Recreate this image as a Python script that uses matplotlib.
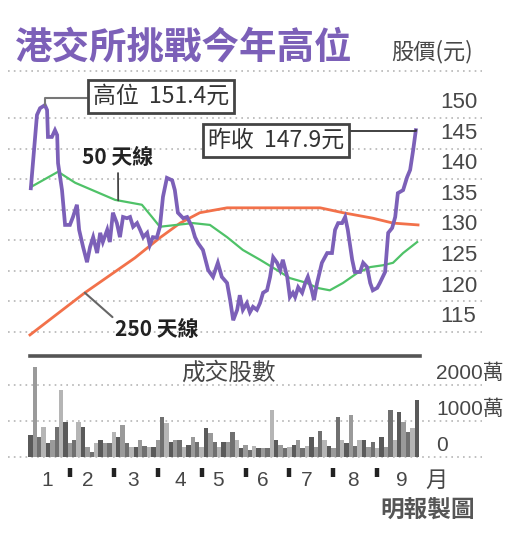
import numpy as np
import matplotlib
matplotlib.use('Agg')
import matplotlib.pyplot as plt
import matplotlib.transforms as mtransforms
from matplotlib.lines import Line2D

# ---- data (x in months from start of Jan) ----
price_x = [0.11, 0.25, 0.32, 0.43, 0.48, 0.50, 0.59, 0.66, 0.71, 0.73, 0.82, 0.89, 1.00,
           1.07, 1.16, 1.21, 1.30, 1.39, 1.46, 1.53, 1.62, 1.69, 1.75, 1.85, 1.91, 1.98,
           2.07, 2.14, 2.21, 2.30, 2.37, 2.44, 2.53, 2.60, 2.67, 2.76, 2.82, 2.89, 2.98,
           3.05, 3.12, 3.21, 3.33, 3.39, 3.46, 3.58, 3.67, 3.78, 3.85, 3.92, 4.03, 4.15,
           4.26, 4.37, 4.46, 4.58, 4.65, 4.72, 4.81, 4.87, 4.94, 5.03, 5.10, 5.17, 5.26,
           5.33, 5.40, 5.49, 5.56, 5.63, 5.72, 5.79, 5.85, 5.95, 6.01, 6.08, 6.13, 6.20,
           6.29, 6.36, 6.42, 6.51, 6.56, 6.63, 6.74, 6.86, 6.97, 7.04, 7.11, 7.20, 7.27,
           7.33, 7.43, 7.49, 7.61, 7.68, 7.77, 7.84, 7.90, 8.00, 8.06, 8.18, 8.25, 8.34,
           8.41, 8.47, 8.59, 8.68, 8.75, 8.82, 8.88]
price_y = [136.0, 148.0, 149.1, 149.6, 148.8, 144.4, 144.4, 145.5, 144.7, 140.1, 135.7, 130.0, 130.0,
           131.3, 133.3, 129.2, 126.4, 123.9, 126.4, 128.0, 125.4, 128.7, 127.2, 129.2, 127.2, 132.0,
           130.3, 128.0, 131.3, 131.1, 131.3, 129.7, 130.3, 129.2, 128.0, 128.7, 126.7, 128.0, 127.9,
           129.7, 134.6, 137.7, 137.3, 135.7, 132.0, 131.1, 131.3, 129.7, 128.0, 127.0, 125.9, 122.6,
           121.5, 123.8, 121.5, 120.5, 117.7, 114.4, 116.1, 118.5, 116.1, 117.2, 115.7, 116.6, 116.1,
           117.2, 118.9, 119.3, 121.5, 124.7, 123.8, 122.6, 124.3, 121.5, 118.2, 118.9, 118.2, 119.8,
           118.9, 120.5, 121.5, 119.3, 117.7, 120.5, 123.8, 125.4, 125.4, 129.2, 130.3, 130.3, 131.3,
           129.2, 124.3, 122.3, 122.3, 123.8, 123.1, 120.5, 119.3, 119.7, 120.5, 122.3, 128.7, 129.5,
           131.3, 135.2, 135.7, 137.8, 139.0, 142.3, 145.5]

ma50_x = [0.11, 0.73, 1.12, 2.03, 2.64, 2.87, 3.05, 3.80, 4.19, 4.58, 4.94, 5.33, 5.72,
          6.01, 6.40, 6.63, 6.92, 7.22, 7.54, 7.84, 8.13, 8.36, 8.59, 8.91]
ma50_y = [136.2, 138.7, 136.9, 134.1, 133.3, 131.3, 129.7, 130.3, 130.0, 128.0, 125.9, 124.3, 122.6,
          121.3, 120.5, 119.7, 119.3, 120.5, 122.1, 123.1, 123.4, 123.8, 125.4, 127.2]

ma250_x = [0.09, 1.34, 2.48, 3.05, 3.51, 3.96, 4.58, 5.33, 6.24, 6.70, 7.22, 7.90, 8.36, 8.93]
ma250_y = [112.0, 118.9, 124.6, 127.9, 130.3, 132.0, 132.8, 132.8, 132.8, 132.8, 132.0, 131.1, 130.3, 130.0]

# volume, one bar per 0.1 month (萬股)
vol_x = np.round(np.arange(1, 90) * 0.1, 1)
vol = [610, 2500, 550, 830, 390, 470, 830, 1860, 970, 390,
       470, 970, 830, 280, 140, 390, 470, 390, 390, 690,
       550, 890, 390, 280, 280, 470, 300, 280, 280, 470,
       1110, 940, 420, 470, 470, 280, 330, 550, 420, 280,
       800, 670, 420, 280, 420, 420, 690, 470, 250, 330,
       190, 300, 250, 250, 250, 1300, 470, 330, 250, 280,
       330, 470, 250, 300, 550, 280, 720, 470, 300, 250,
       1110, 470, 390, 1170, 300, 470, 470, 280, 420, 250,
       550, 280, 1300, 470, 1250, 970, 690, 800, 1580]

price_ticks = [150, 145, 140, 135, 130, 125, 120, 115]
price_grid = [147.5, 142.5, 137.5, 132.5, 127.5, 122.5, 117.5, 112.5]
vol_ticks = [2000, 1000, 0]
vol_tick_labels = ['2000萬', '1000萬', '0']
month_labels = ['1', '2', '3', '4', '5', '6', '7', '8', '9']
month_label_x = [0.48, 1.41, 2.44, 3.51, 4.37, 5.40, 6.40, 7.45, 8.56]
month_edges = [1, 2, 3, 4, 5, 6, 7, 8]

title = '港交所挑戰今年高位'
high_label = '高位  151.4元'
close_label = '昨收  147.9元'

# ---- style ----
CJK = ['Noto Sans CJK TC', 'DejaVu Sans']
NUM = ['Liberation Sans', 'DejaVu Sans']
PURPLE = '#7c60b8'
GREEN = '#4fc268'
ORANGE = '#f2714a'
GRID = '#b5b5b5'
TXT = '#474747'

W, H = 528, 540
fig = plt.figure(figsize=(W / 100, H / 100), dpi=100)
fig.patch.set_facecolor('white')


def px_box(l, t, r, b):
    return [l / W, 1 - b / H, (r - l) / W, (b - t) / H]


def hline_px(x0, x1, y, **kw):
    fig.add_artist(Line2D([x0 / W, x1 / W], [1 - y / H, 1 - y / H], transform=fig.transFigure, **kw))


# header
fig.text(15 / W, 1 - 47 / H, title, family=CJK, fontsize=27, fontweight='bold',
         color=PURPLE, ha='left', va='center')
fig.text(391 / W, 1 - 52 / H, '股價(元)', family=CJK, fontsize=16, color=TXT,
         ha='left', va='center')
hline_px(8, 482, 71, color=GRID, lw=1.2, ls=(0, (1, 2.5)))

# ---- price panel ----
ax = fig.add_axes(px_box(8, 60, 482, 345))
ax.set_xlim(-0.41, 10.387)
ax.set_ylim(110.35, 156.99)
ax.axis('off')

for g in price_grid:
    ax.axhline(g, color=GRID, lw=1.2, ls=(0, (1, 2.5)), zorder=1)
for t in price_ticks:
    ax.text(9.43, t, str(t), family=NUM, fontsize=16, color=TXT, ha='left', va='center')

ax.plot(ma250_x, ma250_y, color=ORANGE, lw=2.0, zorder=2)
ax.plot(ma50_x, ma50_y, color=GREEN, lw=1.6, zorder=3)
ax.plot(price_x, price_y, color=PURPLE, lw=2.7, zorder=4, solid_joinstyle='miter')

box = dict(boxstyle='square,pad=0.22', fc='white', ec='#444444', lw=2.0)
i_hi = int(np.argmax(price_y))
ax.annotate(high_label, xy=(price_x[i_hi], price_y[i_hi]), xytext=(161, 443.5),
            textcoords='figure pixels', family=CJK, fontsize=16.5, color='#333333',
            ha='center', va='center', bbox=box, zorder=6,
            arrowprops=dict(arrowstyle='-', color='#777777', lw=1.5, shrinkA=0, shrinkB=0,
                            relpos=(0, 0.45),
                            connectionstyle='angle,angleA=0,angleB=90,rad=0'))
ax.annotate(close_label, xy=(price_x[-1], price_y[-1]), xytext=(276, 399.5),
            textcoords='figure pixels', family=CJK, fontsize=16.5, color='#333333',
            ha='center', va='center', bbox=box, zorder=6,
            arrowprops=dict(arrowstyle='-', color='#333333', lw=1.3, shrinkA=0, shrinkB=0,
                            relpos=(1, 0.9),
                            connectionstyle='angle,angleA=0,angleB=90,rad=0'))

ax.annotate('50 天線', xy=(2.10, np.interp(2.10, ma50_x, ma50_y)), xytext=(118, 383),
            textcoords='figure pixels', family=CJK, fontsize=15, fontweight='bold',
            color='#222222', ha='center', va='center', zorder=6,
            arrowprops=dict(arrowstyle='-', color='#444444', lw=1.3, shrinkA=2, shrinkB=0,
                            relpos=(0.5, 0)))
ax.annotate('250 天線', xy=(1.34, np.interp(1.34, ma250_x, ma250_y)), xytext=(157, 211),
            textcoords='figure pixels', family=CJK, fontsize=15, fontweight='bold',
            color='#222222', ha='center', va='center', zorder=6,
            arrowprops=dict(arrowstyle='-', color='#666666', lw=1.5, shrinkA=0, shrinkB=0,
                            relpos=(0, 0.95)))

# separator
hline_px(30, 420, 356, color='#555555', lw=2.6)

# ---- volume panel ----
axv = fig.add_axes(px_box(8, 360, 482, 462))
axv.set_xlim(-0.41, 10.387)
axv.set_ylim(-139, 2694)
axv.axis('off')

for g in vol_ticks:
    axv.axhline(g, color=GRID, lw=1.2, ls=(0, (1, 2.5)), zorder=1)
for t, lab in zip(vol_ticks, vol_tick_labels):
    axv.text(9.34, t + 330, lab, family=NUM[:1] + CJK, fontsize=15, color=TXT,
             ha='left', va='center')

shades = ['#5a5a5a', '#9a9a9a', '#707070', '#b5b5b5']
bar_cols = [shades[i % len(shades)] for i in range(len(vol))]
axv.bar(vol_x, vol, width=0.1, color=bar_cols, edgecolor='none', zorder=2)

axv.text(4.62, 2330, '成交股數', family=CJK, fontsize=17, color=TXT, ha='center', va='center')

trans = mtransforms.blended_transform_factory(axv.transData, axv.transAxes)
axv.vlines(month_edges, -0.06, -0.15, transform=trans, colors='#222222', lw=3.2, clip_on=False)
for mx, lab in zip(month_label_x, month_labels):
    axv.text(mx, -0.18, lab, transform=trans, family=NUM, fontsize=15, color=TXT,
             ha='center', va='center', clip_on=False)
axv.text(9.36, -0.18, '月', transform=trans, family=CJK, fontsize=16, color=TXT,
         ha='center', va='center', clip_on=False)

fig.text(428 / W, 1 - 510 / H, '明報製圖', family=CJK, fontsize=17, fontweight='bold',
         color='#555555', ha='center', va='center')

fig.savefig('out.png', dpi=100, facecolor='white')
